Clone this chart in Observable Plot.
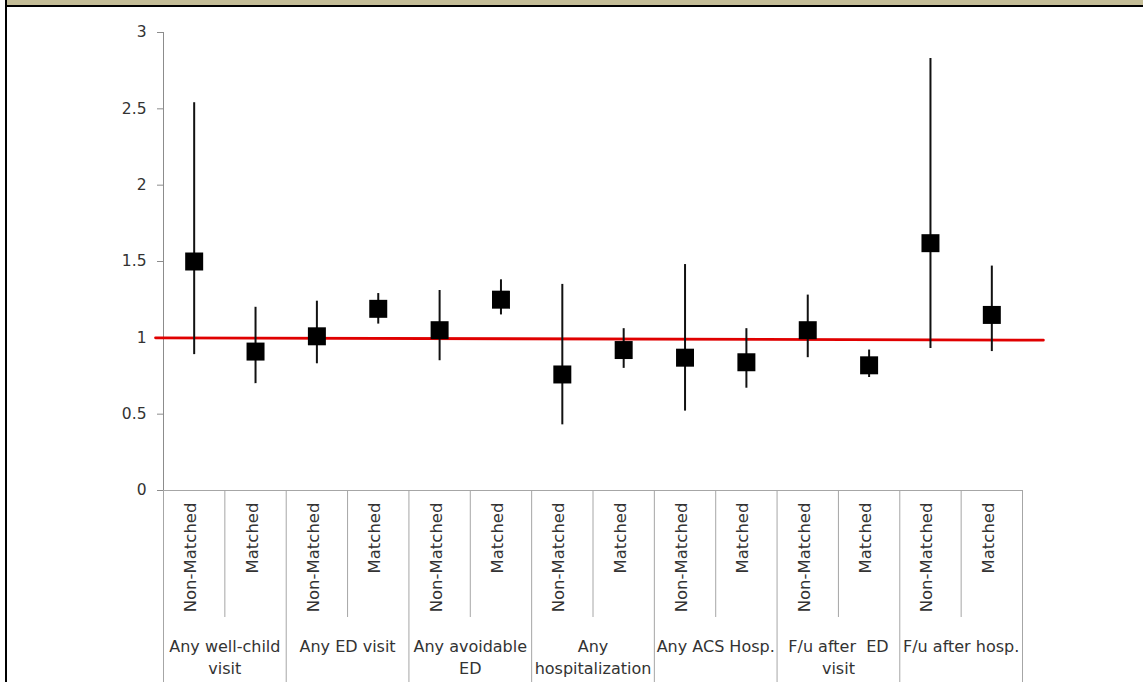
<!DOCTYPE html>
<html>
<head>
<meta charset="utf-8">
<script src="https://cdn.jsdelivr.net/npm/d3@7"></script>
<script src="https://cdn.jsdelivr.net/npm/@observablehq/plot@0.6"></script>
<style>
  html, body { margin: 0; padding: 0; background: #fff; }
  #wrap { position: relative; width: 1143px; height: 682px; overflow: hidden; }
  #band { position: absolute; left: 5px; top: 0; width: 1138px; height: 5px; background: #C4BD97; border-bottom: 2px solid #000; z-index: 2; }
  #lborder { position: absolute; left: 5px; top: 0; width: 2px; height: 682px; background: #000; z-index: 2; }
  #chart { position: absolute; left: 0; top: 0; }
  #chart svg text { white-space: pre; }
</style>
</head>
<body>
<div id="wrap">
  <div id="chart"></div>
  <div id="band"></div>
  <div id="lborder"></div>
</div>
<script>
// ---- Data ----
const categories = [
  "Any well-child\nvisit",
  "Any ED visit",
  "Any avoidable\nED",
  "Any\nhospitalization",
  "Any ACS Hosp.",
  "F/u after  ED\nvisit",
  "F/u after hosp."
];
const subgroups = ["Non-Matched", "Matched"];
const estimates = [1.50, 0.91, 1.01, 1.19, 1.05, 1.25, 0.76, 0.92, 0.87, 0.84, 1.05, 0.82, 1.62, 1.15];
const lower     = [0.89, 0.70, 0.83, 1.09, 0.85, 1.15, 0.43, 0.80, 0.52, 0.67, 0.87, 0.74, 0.93, 0.91];
const upper     = [2.54, 1.20, 1.24, 1.29, 1.31, 1.38, 1.35, 1.06, 1.48, 1.06, 1.28, 0.92, 2.83, 1.47];
const yTicks    = [0, 0.5, 1, 1.5, 2, 2.5, 3];
const refValueStart = 1.0;
const refValueEnd = 0.985;

// ---- Build tables ----
const nSub = subgroups.length;
const nCols = categories.length * nSub;
const points = estimates.map((v, i) => ({
  pos: i + 0.5,
  sub: subgroups[i % nSub],
  est: v,
  lo: lower[i],
  hi: upper[i]
}));
const groups = categories.map((c, g) => ({ pos: g * nSub + nSub / 2, label: c }));
const groupEdges = d3.range(0, nCols + 1, nSub);
const innerEdges = d3.range(1, nCols, nSub);
const refLine = [
  { pos: -0.13, value: refValueStart },
  { pos: nCols + 0.34, value: refValueEnd }
];

const axisGray = "#8c8c8c";
const tableGray = "#a6a6a6";
const textColor = "#333333";

const chart = Plot.plot({
  width: 1143,
  height: 682,
  marginLeft: 163,
  marginRight: 121,
  marginTop: 32,
  marginBottom: 192,
  style: { fontFamily: "'DejaVu Sans', Verdana, sans-serif", fontSize: "16px", background: "transparent", overflow: "visible" },
  x: { domain: [0, nCols], axis: null, label: null },
  y: { domain: [0, 3], axis: null, label: null },
  marks: [
    // y axis
    Plot.axisY(yTicks, { label: null, tickSize: 6, tickPadding: 11, stroke: axisGray, fill: textColor, fontSize: 15.5, tickFormat: d => String(d) }),
    Plot.ruleX([0], { y1: 0, y2: 3, stroke: axisGray }),
    // category table
    Plot.ruleY([0], { stroke: tableGray }),
    Plot.axisX(groupEdges, { label: null, tickSize: 192, stroke: tableGray, tickFormat: () => "" }),
    Plot.axisX(innerEdges, { label: null, tickSize: 127, stroke: tableGray, tickFormat: () => "" }),
    Plot.text(points, { x: "pos", text: "sub", frameAnchor: "bottom", rotate: -90, textAnchor: "end", dy: 12, dx: 2, fill: textColor, fontSize: 16.5 }),
    Plot.text(groups, { x: "pos", text: "label", frameAnchor: "bottom", lineAnchor: "top", dy: 145, lineHeight: 1.42, fill: textColor, fontSize: 16 }),
    // reference line
    Plot.line(refLine, { x: "pos", y: "value", stroke: "#e00000", strokeWidth: 2.8 }),
    // confidence intervals
    Plot.ruleX(points, { x: "pos", y1: "lo", y2: "hi", stroke: "#111", strokeWidth: 2 }),
    // estimates
    Plot.dot(points, { x: "pos", y: "est", symbol: "square", r: 10.15, fill: "#000", stroke: "none" })
  ]
});
document.getElementById("chart").appendChild(chart);
</script>
</body>
</html>
